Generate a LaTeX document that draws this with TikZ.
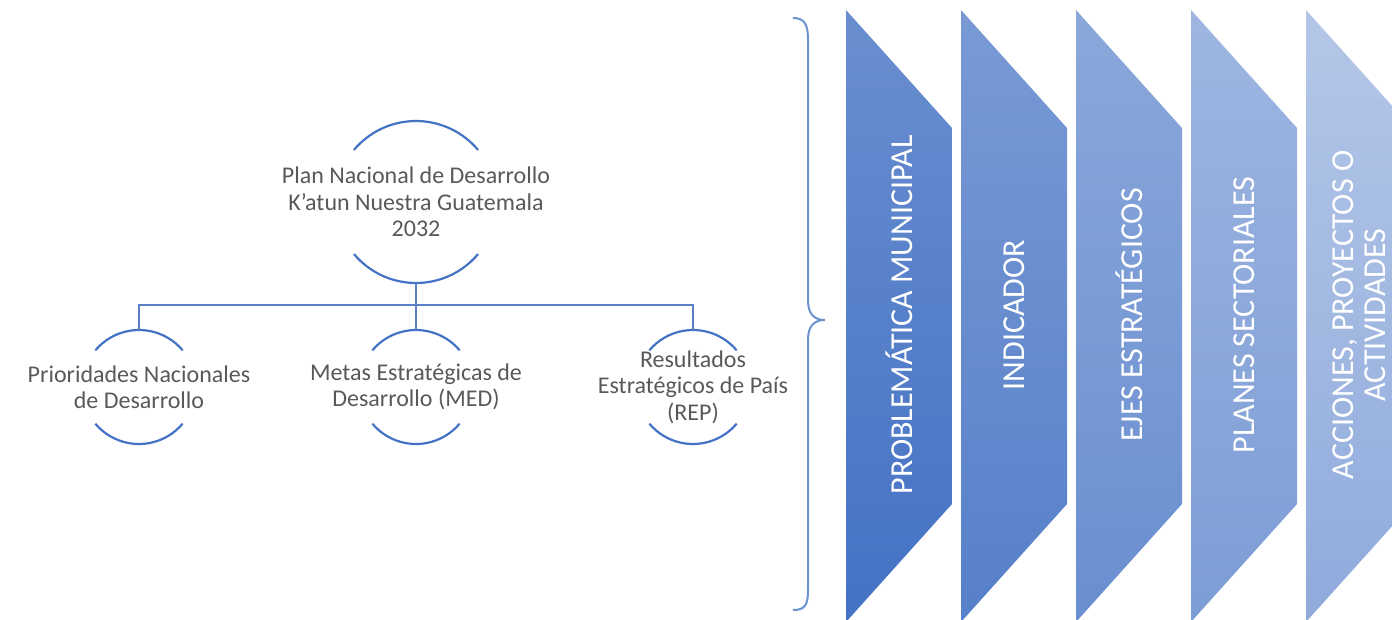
\documentclass[tikz,border=0pt]{standalone}
\usepackage{fontspec}
\setmainfont{Carlito}
\usetikzlibrary{positioning}
\definecolor{kblue}{HTML}{4472C4}
\definecolor{klink}{HTML}{5A7FC6}
\definecolor{ktext}{HTML}{595959}
\definecolor{kbrace}{HTML}{6A93CF}

\begin{document}
\begin{tikzpicture}[x=1pt, y=1pt,
    ring/.style={circle, minimum size=#1, inner sep=0pt, outer sep=0pt},
    arcline/.style={draw=kblue, line width=2.2pt},
    link/.style={draw=klink, line width=2pt},
    boxtext/.style={font=\fontsize{24}{26.5}\selectfont, text=ktext, align=center},
    chevtext/.style={font=\fontsize{32}{32}\selectfont, text=white, align=center, rotate=90}]
  \useasboundingbox (0,0) rectangle (1392,-619);

  % plan and its three branches
  \node[ring=162] (planring) at (416,-202) {};
  \node[boxtext] (plan) at (planring) {Plan Nacional de Desarrollo\\K’atun Nuestra Guatemala\\2032};
  \node[ring=114] (prioring) at (139,-387) {};
  \node[boxtext] (prio) at (prioring) {Prioridades Nacionales\\de Desarrollo};
  \node[ring=114] (medring) at (416,-387) {};
  \node[boxtext] (med) at (medring) {Metas Estratégicas de\\Desarrollo (MED)};
  \node[ring=114] (repring) at (693,-387) {};
  \node[boxtext] (rep) at (repring) {Resultados\\Estratégicos de País\\(REP)};

  \foreach \n/\r in {planring/81, prioring/57, medring/57, repring/57}{
    \draw[arcline] (\n.40) arc[start angle=40, end angle=140, radius=\r];
    \draw[arcline] (\n.220) arc[start angle=220, end angle=320, radius=\r];
  }

  \coordinate[below=22pt of planring.south] (fork);
  \draw[link] (planring.south) -- (fork) -| (prioring.north);
  \draw[link] (fork) -| (repring.north);
  \draw[link] (fork) -- (medring.north);

  % brace
  \draw[kbrace, line width=2pt] (793,-18) .. controls (805,-18) and (808,-25) .. (808,-40)
    -- (808,-300) .. controls (808,-314) and (814,-320) .. (825,-320)
    .. controls (814,-320) and (808,-326) .. (808,-340)
    -- (808,-590) .. controls (808,-605) and (805,-610) .. (793,-610);

  % chevrons
  \begin{scope}
    \clip (0,0) rectangle (1392,-619);
    \foreach \i/\t/\b/\txt in {0/80/100/{PROBLEMÁTICA MUNICIPAL}, 1/72/90/INDICADOR,
        2/62/80/{EJES ESTRATÉGICOS}, 3/52/70/{PLANES SECTORIALES},
        4/40/60/{ACCIONES, PROYECTOS O\\ACTIVIDADES}}{
      \shade[top color=kblue!\t!white, bottom color=kblue!\b!white]
        (846+115*\i,-10) -- ++(106,-118) -- ++(0,-376) -- ++(-106,-118) -- cycle;
      \node[chevtext] (chev\i) at (899+115*\i,-315) {\txt};
    }
  \end{scope}
\end{tikzpicture}
\end{document}
